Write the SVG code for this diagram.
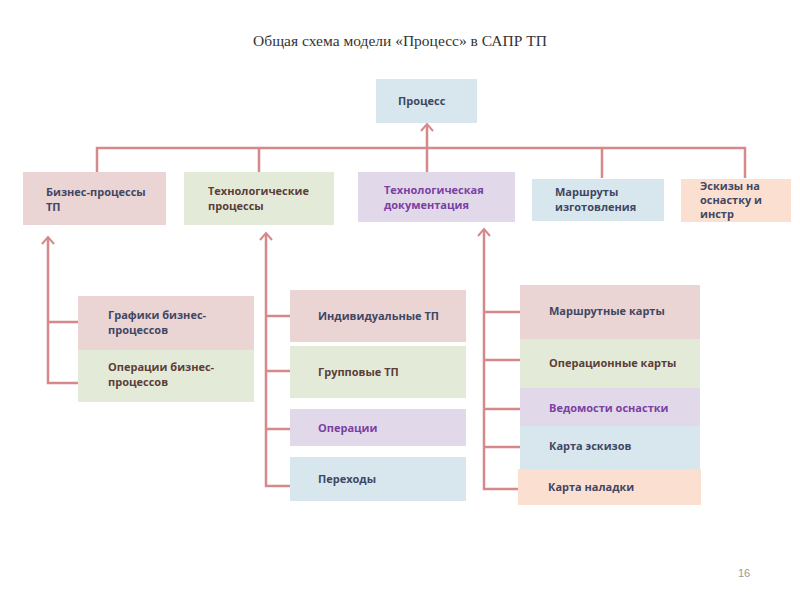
<svg xmlns="http://www.w3.org/2000/svg" width="800" height="600" viewBox="0 0 800 600">
<style>
.t{font-family:"Open Sans","Liberation Sans",sans-serif;font-size:11px;font-weight:700}
.c1{fill:#3f4763}.c2{fill:#5c3d38}.c3{fill:#7b3fa3}
.pink{fill:#ebd4d4}.green{fill:#e3ebd8}.lav{fill:#e1d9e9}.blue{fill:#d8e7ee}.peach{fill:#fbe0d2}
.ln{stroke:#d6898b;stroke-width:2.5;fill:none}
.ar{stroke:#d6898b;stroke-width:2;fill:none}
</style>
<rect width="800" height="600" fill="#ffffff"/>
<text x="400" y="46" text-anchor="middle" font-family="Liberation Serif,serif" font-size="15.5" fill="#333">Общая схема модели «Процесс» в САПР ТП</text>
<g id="connectors">
<path class="ln" d="M97,172 V148 H745 V178 M259,148 V172 M602,148 V178 M427,172 V125"/>
<path class="ar" d="M421,131 L427,124 L433,131"/>
<path class="ln" d="M48,238 V383 H80 M48,322 H80"/>
<path class="ar" d="M42,244 L48,237 L54,244"/>
<path class="ln" d="M266,234 V486 H290 M266,316 H290 M266,371 H290 M266,429 H290"/>
<path class="ar" d="M260,240 L266,233 L272,240"/>
<path class="ln" d="M484,230 V489 H520 M484,312 H520 M484,360 H520 M484,409 H520 M484,447 H520"/>
<path class="ar" d="M478,236 L484,229 L490,236"/>
</g>
<g id="process"><rect class="blue" x="376" y="79" width="101" height="44"/><text class="t c1" x="398" y="105">Процесс</text></g>
<g id="bp"><rect class="pink" x="23" y="172" width="143" height="53"/><text class="t c1" x="46" y="196">Бизнес-процессы</text><text class="t c1" x="46" y="211">ТП</text></g>
<g id="tp"><rect class="green" x="184" y="172" width="150" height="53"/><text class="t c2" x="208" y="195">Технологические</text><text class="t c2" x="208" y="210">процессы</text></g>
<g id="td"><rect class="lav" x="358" y="172" width="157" height="50"/><text class="t c3" x="384" y="194">Технологическая</text><text class="t c3" x="384" y="209">документация</text></g>
<g id="mi"><rect class="blue" x="532" y="179" width="132" height="42"/><text class="t c1" x="555" y="196">Маршруты</text><text class="t c1" x="555" y="211">изготовления</text></g>
<g id="es"><rect class="peach" x="681" y="179" width="110" height="43"/><text class="t c1" x="700" y="190">Эскизы на</text><text class="t c1" x="700" y="204">оснастку и</text><text class="t c1" x="700" y="218">инстр</text></g>
<g id="gbp"><rect class="pink" x="78" y="296" width="176" height="54"/><text class="t c1" x="108" y="319">Графики бизнес-</text><text class="t c1" x="108" y="334">процессов</text></g>
<g id="obp"><rect class="green" x="78" y="350" width="176" height="52"/><text class="t c2" x="108" y="371">Операции бизнес-</text><text class="t c2" x="108" y="386">процессов</text></g>
<g id="itp"><rect class="pink" x="290" y="290" width="176" height="52"/><text class="t c1" x="318" y="320">Индивидуальные ТП</text></g>
<g id="gtp"><rect class="green" x="290" y="346" width="176" height="52"/><text class="t c2" x="318" y="376">Групповые ТП</text></g>
<g id="op"><rect class="lav" x="290" y="409" width="176" height="37"/><text class="t c3" x="318" y="432">Операции</text></g>
<g id="per"><rect class="blue" x="290" y="457" width="176" height="44"/><text class="t c1" x="318" y="483">Переходы</text></g>
<g id="mk"><rect class="pink" x="520" y="285" width="180" height="54"/><text class="t c1" x="549" y="315">Маршрутные карты</text></g>
<g id="ok"><rect class="green" x="520" y="339" width="180" height="49"/><text class="t c2" x="549" y="367">Операционные карты</text></g>
<g id="vo"><rect class="lav" x="520" y="388" width="180" height="38"/><text class="t c3" x="549" y="412">Ведомости оснастки</text></g>
<g id="ke"><rect class="blue" x="520" y="426" width="180" height="43"/><text class="t c1" x="549" y="450">Карта эскизов</text></g>
<g id="kn"><rect class="peach" x="518" y="469" width="183" height="36"/><text class="t c1" x="548" y="491">Карта наладки</text></g>
<text x="738" y="577" font-family="Liberation Sans,sans-serif" font-size="11" fill="#999">16</text>
</svg>
